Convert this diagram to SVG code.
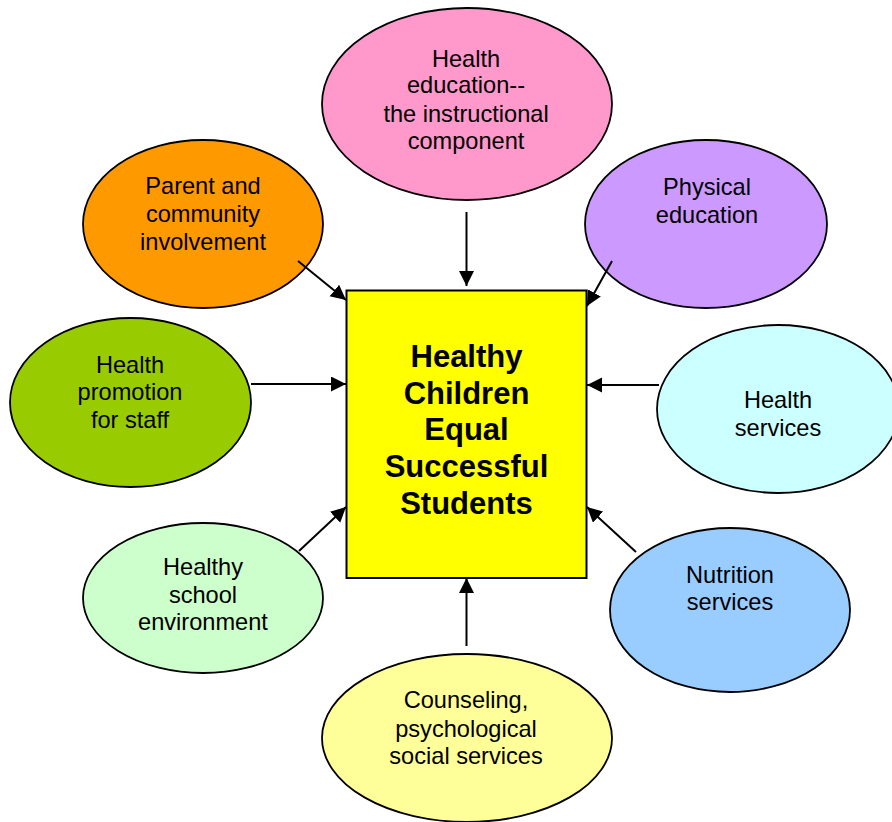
<svg xmlns="http://www.w3.org/2000/svg" width="892" height="822" viewBox="0 0 892 822">
<style>
.node ellipse{stroke:#000;stroke-width:1.8}
.lbl{font-family:"Liberation Sans",Arial,sans-serif;font-size:23.6px;fill:#000;text-anchor:middle}
.main{font-family:"Liberation Sans",Arial,sans-serif;font-size:31px;font-weight:bold;fill:#000;text-anchor:middle}
.conn line{stroke:#000;stroke-width:2;marker-end:url(#ah)}
</style>
<defs>
<marker id="ah" markerUnits="userSpaceOnUse" markerWidth="16" markerHeight="16" viewBox="0 0 16 16" refX="15" refY="7.5" orient="auto">
<path d="M0,0 L15,7.5 L0,15 z" fill="#000"/>
</marker>
</defs>
<rect width="892" height="822" fill="#fff"/>
<g id="node-health-education" class="node">
<ellipse cx="467" cy="104" rx="145" ry="96" fill="#FF99CC"/>
<text class="lbl" x="466" y="67">Health</text>
<text class="lbl" x="466" y="93">education--</text>
<text class="lbl" x="466" y="122">the instructional</text>
<text class="lbl" x="466" y="149">component</text>
</g>
<g id="node-parent" class="node">
<ellipse cx="203" cy="224" rx="120" ry="84" fill="#FF9900"/>
<text class="lbl" x="203" y="194">Parent and</text>
<text class="lbl" x="203" y="222">community</text>
<text class="lbl" x="203" y="250">involvement</text>
</g>
<g id="node-physical" class="node">
<ellipse cx="706" cy="224" rx="121" ry="84" fill="#CC99FF"/>
<text class="lbl" x="707" y="195">Physical</text>
<text class="lbl" x="707" y="223">education</text>
</g>
<g id="node-promotion" class="node">
<ellipse cx="130.5" cy="402.5" rx="120.5" ry="84.5" fill="#99CC00"/>
<text class="lbl" x="130" y="373">Health</text>
<text class="lbl" x="130" y="400">promotion</text>
<text class="lbl" x="130" y="428">for staff</text>
</g>
<g id="node-health-services" class="node">
<ellipse cx="778" cy="409" rx="121" ry="84" fill="#CCFFFF"/>
<text class="lbl" x="778" y="408">Health</text>
<text class="lbl" x="778" y="436">services</text>
</g>
<g id="node-environment" class="node">
<ellipse cx="203" cy="598" rx="120" ry="75" fill="#CCFFCC"/>
<text class="lbl" x="203" y="575">Healthy</text>
<text class="lbl" x="203" y="603">school</text>
<text class="lbl" x="203" y="630">environment</text>
</g>
<g id="node-nutrition" class="node">
<ellipse cx="730" cy="610" rx="120" ry="82" fill="#99CCFF"/>
<text class="lbl" x="730" y="583">Nutrition</text>
<text class="lbl" x="730" y="610">services</text>
</g>
<g id="node-counseling" class="node">
<ellipse cx="467" cy="738" rx="145" ry="84" fill="#FFFF99"/>
<text class="lbl" x="466" y="708">Counseling,</text>
<text class="lbl" x="466" y="737">psychological</text>
<text class="lbl" x="466" y="764">social services</text>
</g>
<g id="node-center">
<rect x="346.5" y="290.5" width="240" height="287.5" fill="#FFFF00" stroke="#000" stroke-width="2"/>
<text class="main" x="466.5" y="367">Healthy</text>
<text class="main" x="466.5" y="404">Children</text>
<text class="main" x="466.5" y="440">Equal</text>
<text class="main" x="466.5" y="477">Successful</text>
<text class="main" x="466.5" y="514">Students</text>
</g>
<g id="connectors" class="conn">
<line x1="466.5" y1="212" x2="466.5" y2="286"/>
<line x1="298" y1="261" x2="346" y2="300"/>
<line x1="612" y1="261" x2="587" y2="306"/>
<line x1="251" y1="384" x2="346" y2="384"/>
<line x1="659" y1="385" x2="587" y2="385"/>
<line x1="299" y1="551" x2="346" y2="507"/>
<line x1="636" y1="552" x2="587" y2="507"/>
<line x1="466.5" y1="646" x2="466.5" y2="578"/>
</g>
</svg>
